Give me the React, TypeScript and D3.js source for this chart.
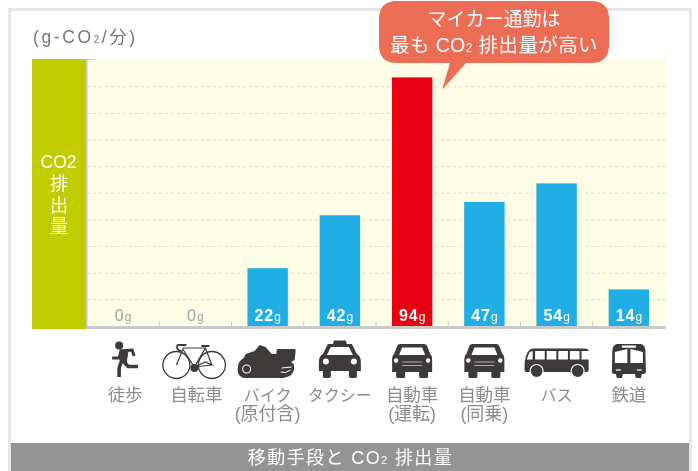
import React from "react";
import * as d3 from "d3";

const categories = ["徒歩", "自転車", "バイク", "タクシー", "自動車", "自動車", "バス", "鉄道"];
const subLabels = ["", "", "(原付含)", "", "(運転)", "(同乗)", "", ""];
const values = [0, 0, 22, 42, 94, 47, 54, 14];
const iconKinds = ["run", "cycle", "moto", "taxi", "car", "car", "bus", "train"];
const gridValues = [10.1, 20.1, 30.2, 40.2, 50.3, 60.3, 70.4, 80.4, 90.5];

const FONT = "'Liberation Sans','Noto Sans CJK JP',sans-serif";
const DARK = "#3e3a39";

const x = d3.scaleBand<number>().domain(d3.range(8)).range([87, 665]).paddingInner(0.44).paddingOuter(0.22);
const xStep = d3.scaleBand<number>().domain(d3.range(8)).range([87, 665]);
const y = d3.scaleLinear().domain([0, 100]).range([326.5, 61.5]);

function Icon({ kind, cx }: { kind: string; cx: number }) {
  const t = `translate(${cx},0)`;
  if (kind === "run")
    return (
      <g transform={t} fill={DARK} stroke={DARK}>
        <circle cx={-4} cy={345.5} r={4} stroke="none" />
        <path d="M-11 358 L-4 358 L-2 351 L9 350 L11 356" fill="none" strokeWidth={3} />
        <path d="M-3 350 L5 350 L3 363 L-3 363 Z" strokeWidth={1} />
        <path d="M-2 362 L-4 368 L-4 377 M1 362 L5 366.5 L15 366.5" fill="none" strokeWidth={3.6} />
      </g>
    );
  if (kind === "cycle")
    return (
      <g transform={t} fill="none" stroke={DARK}>
        <circle cx={-19} cy={365} r={13.5} strokeWidth={1.3} />
        <circle cx={16.5} cy={365} r={13.5} strokeWidth={1.3} />
        <path d="M-19 365 L-12 348 L10 348 L-1 367 L-12 350 M10 348 L16.5 365 M-1 367 L16.5 365 L10 362 L-1 367" strokeWidth={1.2} />
        <path d="M-18 345 L-9 345 M6 346 L14 346 M-18 345 Q-20 350 -14 351" strokeWidth={1.8} />
        <circle cx={-1} cy={368} r={4} fill={DARK} stroke="none" />
      </g>
    );
  if (kind === "moto")
    return (
      <g transform={t} fill={DARK}>
        <path d="M-30 370 Q-30 361 -24 358 L-22 354 L-13 351 L-8 345 L-2 347 L4 354 L9 354 L18 358 L26 364 Q28 372 22 376 L16 378 L-24 378 Q-30 376 -30 370 Z" />
        <path d="M9 350 Q9 349 11 349 L27 349 Q28 349 28 351 L27 360 L20 364 L8 362 Z" />
        <circle cx={-21} cy={369} r={4} fill="none" stroke="#fff" strokeWidth={1.1} />
        <path d="M13 372 Q18 374 23 370 M14 368 L24 367" fill="none" stroke="#fff" strokeWidth={1} />
      </g>
    );
  if (kind === "taxi")
    return (
      <g transform={t} fill={DARK}>
        <path d="M-7 344.5 L-6 340.5 L6 340.5 L7 344.5 Z" />
        <path d="M-12 344 L12 344 L17 354 Q21 356 21 362 L21 371 L17 371 L17 377 Q17 378 15 378 L11 378 Q9 378 9 376 L9 371 L-9 371 L-9 376 Q-9 378 -11 378 L-15 378 Q-17 378 -17 377 L-17 371 L-21 371 L-21 362 Q-21 356 -17 354 Z" />
        <path d="M-9 347 L9 347 L13 355 L-13 355 Z" fill="#fff" />
        <circle cx={-14} cy={361.5} r={3} fill="#fff" />
        <circle cx={14} cy={361.5} r={3} fill="#fff" />
      </g>
    );
  if (kind === "car")
    return (
      <g transform={t} fill={DARK}>
        <path d="M-12 344 L12 344 Q14 344 15 346 L18 354 Q20 355 20 360 L20 372 L16 372 L16 377 Q16 378 14 378 L8 378 Q7 378 7 376 L7 372 L-7 372 L-7 376 Q-7 378 -8 378 L-14 378 Q-16 378 -16 377 L-16 372 L-20 372 L-20 360 Q-20 355 -18 354 L-15 346 Q-14 344 -12 344 Z" />
        <path d="M-10 347.5 L10 347.5 L13 355 L-13 355 Z" fill="#fff" />
        <circle cx={-16} cy={360.5} r={2.2} fill="#fff" />
        <circle cx={16} cy={360.5} r={2.2} fill="#fff" />
        <path d="M-10 362 L10 362 M-10 365.5 L10 365.5" stroke="#aaa" strokeWidth={1} />
      </g>
    );
  if (kind === "bus")
    return (
      <g transform={t} fill={DARK}>
        <path d="M-24 348.5 Q-30 349 -32 362 L-32 371 Q-32 372 -30 372 L30 372 Q32 372 32 370 L32 351 Q32 348.5 28 348.5 Z" />
        <circle cx={-20} cy={371} r={6.5} stroke="#fff" strokeWidth={1.2} />
        <circle cx={21} cy={371} r={6.5} stroke="#fff" strokeWidth={1.2} />
        {d3.range(5).map((i) => (
          <rect key={i} x={-21.5 + i * 11.6} y={351} width={9.6} height={8.5} fill="#fff" />
        ))}
        <path d="M-30 359.5 L-27 352 L-24 351 L-24 359.5 Z" fill="#fff" />
      </g>
    );
  return (
    <g transform={t} fill={DARK}>
      <path d="M-12 344 L12 344 Q16 345 16.5 350 L17 372 Q17 374 13 374 L12 378 L7 378 L6 374 L-6 374 L-7 378 L-12 378 L-13 374 Q-17 374 -17 372 L-16.5 350 Q-16 345 -12 344 Z" />
      <path d="M-14 352 L-1.5 349 L-1.5 363 L-14 363 Z" fill="#fff" />
      <path d="M1.5 349 L14 352 L14 363 L1.5 363 Z" fill="#fff" />
      <rect x={-7} y={345.5} width={14} height={2.2} fill="#fff" />
      <path d="M-13 370 L-8 370 M8 370 L13 370" stroke="#ddd" strokeWidth={1.6} />
    </g>
  );
}

function Sub2({ size }: { size: number }) {
  return <tspan fontSize={size}>2</tspan>;
}

const isKana = (s: string) => /^[ァ-ヶー]+$/.test(s);

export default function App() {
  const textColor = "#8c8c8c";
  const center = (i: number) => xStep(i)! + xStep.bandwidth() / 2;
  return (
    <svg
      width={698}
      height={471}
      style={{ position: "absolute", left: 0, top: 0, filter: "blur(0.45px)" }}
      fontFamily={FONT}
    >
      <rect width={698} height={471} fill="#fff" />
      <path d="M9.5 471 L9.5 9.5 L690.5 9.5 L690.5 471" fill="none" stroke="#e6e6e6" strokeWidth={3} />

      <text x={33} y={43} fontSize={17.5} fill="#777" letterSpacing={2.6}>
        (g-CO<Sub2 size={10} />/分)
      </text>

      <rect x={87} y={59} width={579} height={268} fill="#fefde6" />
      {gridValues.map((v) => (
        <line key={v} x1={87} x2={666} y1={y(v)} y2={y(v)} stroke="#dcdccf" strokeDasharray="3 3" />
      ))}

      <rect x={32} y={59} width={54} height={270} fill="#c1cd00" />
      <rect x={86} y={59} width={1.5} height={268} fill="#c9c9c9" />
      <rect x={86} y={59} width={8} height={1} fill="#d0d0d0" />
      <g fill="#fff" textAnchor="middle">
        <text x={58.5} y={168} fontSize={17.5}>CO2</text>
        {["排", "出", "量"].map((c, i) => (
          <text key={c} x={59} y={190 + i * 21.5} fontSize={18}>{c}</text>
        ))}
      </g>

      {values.map((v, i) =>
        v > 0 ? (
          <rect key={i} x={x(i)} y={y(v)} width={x.bandwidth()} height={y(0) - y(v)} fill={v === d3.max(values) ? "#e60012" : "#20aee5"} />
        ) : null
      )}

      <rect x={86} y={326} width={580} height={3} fill="#c9c9c9" />
      {d3.range(1, 8).map((i) => (
        <line key={i} x1={xStep(i)} x2={xStep(i)} y1={321} y2={326} stroke="#c9c9c9" />
      ))}

      {values.map((v, i) => (
        <text
          key={i}
          x={center(i) + 0.5}
          y={321}
          textAnchor="middle"
          fontSize={16}
          letterSpacing={1}
          fontWeight={v > 0 ? 700 : 400}
          fill={v > 0 ? "#fff" : "#a3a3a3"}
        >
          {v}
          <tspan fontSize={12} fontWeight={400}>g</tspan>
        </text>
      ))}

      {iconKinds.map((k, i) => (
        <Icon key={i} kind={k} cx={center(i)} />
      ))}

      {categories.map((c, i) => (
        <text
          key={i}
          x={center(i) + (i === 0 ? 2 : i === 1 ? 1 : 0)}
          y={401}
          textAnchor="middle"
          fontSize={isKana(c) ? 16 : 17.5}
          fill={textColor}
        >
          {c}
        </text>
      ))}
      {subLabels.map((c, i) =>
        c ? (
          <text key={i} x={center(i)} y={419.5} textAnchor="middle" fontSize={18} fill={textColor}>
            {c}
          </text>
        ) : null
      )}

      <rect x={11} y={443} width={678} height={28} fill="#949494" />
      <text x={350.5} y={464} textAnchor="middle" fontSize={18} fill="#fff" letterSpacing={1.4}>
        移動手段と CO<Sub2 size={11} /> 排出量
      </text>

      <path
        d="M397 1 L591 1 Q609 1 609 19 L609 45 Q609 63 591 63 L466 63 L442 90 L450 63 L397 63 Q379 63 379 45 L379 19 Q379 1 397 1 Z"
        fill="#ec6d55"
      />
      <text x={494} y={26} textAnchor="middle" fontSize={19} fill="#fff">マイカー通勤は</text>
      <text x={494} y={52} textAnchor="middle" fontSize={19.5} fill="#fff" letterSpacing={0.4}>
        最も CO<Sub2 size={12} /> 排出量が高い
      </text>
    </svg>
  );
}
